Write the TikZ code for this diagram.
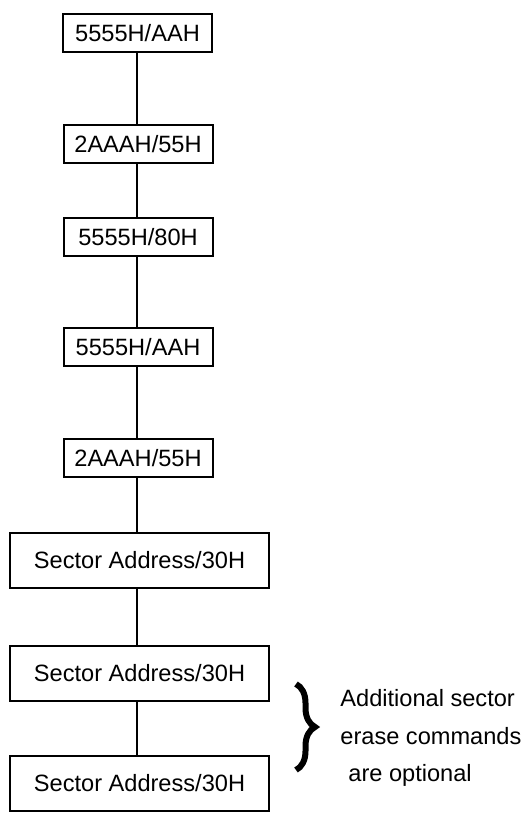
\documentclass[tikz,border=0pt]{standalone}
\usepackage{fontspec}
\setmainfont{Liberation Sans}
\usepackage{tikz}
\usetikzlibrary{decorations.pathreplacing}

\begin{document}
\begin{tikzpicture}[x=0.5pt,y=-0.5pt,font=\fontsize{11.8}{18.75}\selectfont,
    cmd/.style={draw,line width=1pt,minimum width=74.5pt,minimum height=19pt,inner sep=0pt},
    sect/.style={cmd,minimum width=129.5pt,minimum height=27.5pt}]
    \useasboundingbox (0,0) rectangle (528,822);
    \node[cmd] (c1) at (137.5,33) {5555H/AAH};
    \node[cmd] (c2) at (138,144) {2AAAH/55H};
    \node[cmd] (c3) at (138,237) {5555H/80H};
    \node[cmd] (c4) at (138,347.5) {5555H/AAH};
    \node[cmd] (c5) at (138,458) {2AAAH/55H};
    \node[sect] (c6) at (139.5,560.5) {Sector Address/30H};
    \node[sect] (c7) at (139.5,673) {Sector Address/30H};
    \node[sect] (c8) at (139.5,783.5) {Sector Address/30H};
    \coordinate (spine) at (137,0);
    \foreach \a/\b in {c1/c2,c2/c3,c3/c4,c4/c5,c5/c6,c6/c7,c7/c8}
      \draw[line width=1pt] (\a.south -| spine) -- (\b.north -| spine);
    \coordinate (brtop) at (296,684);
    \coordinate (brbot) at (296,770);
    \draw[decorate,decoration={brace,amplitude=9.5pt},line width=3pt] (brtop) -- (brbot);
    \node[align=left,anchor=north west,inner sep=0pt] (note) at (340,689)
      {Additional sector\\erase commands\\\hspace{4pt}are optional};
\end{tikzpicture}
\end{document}
